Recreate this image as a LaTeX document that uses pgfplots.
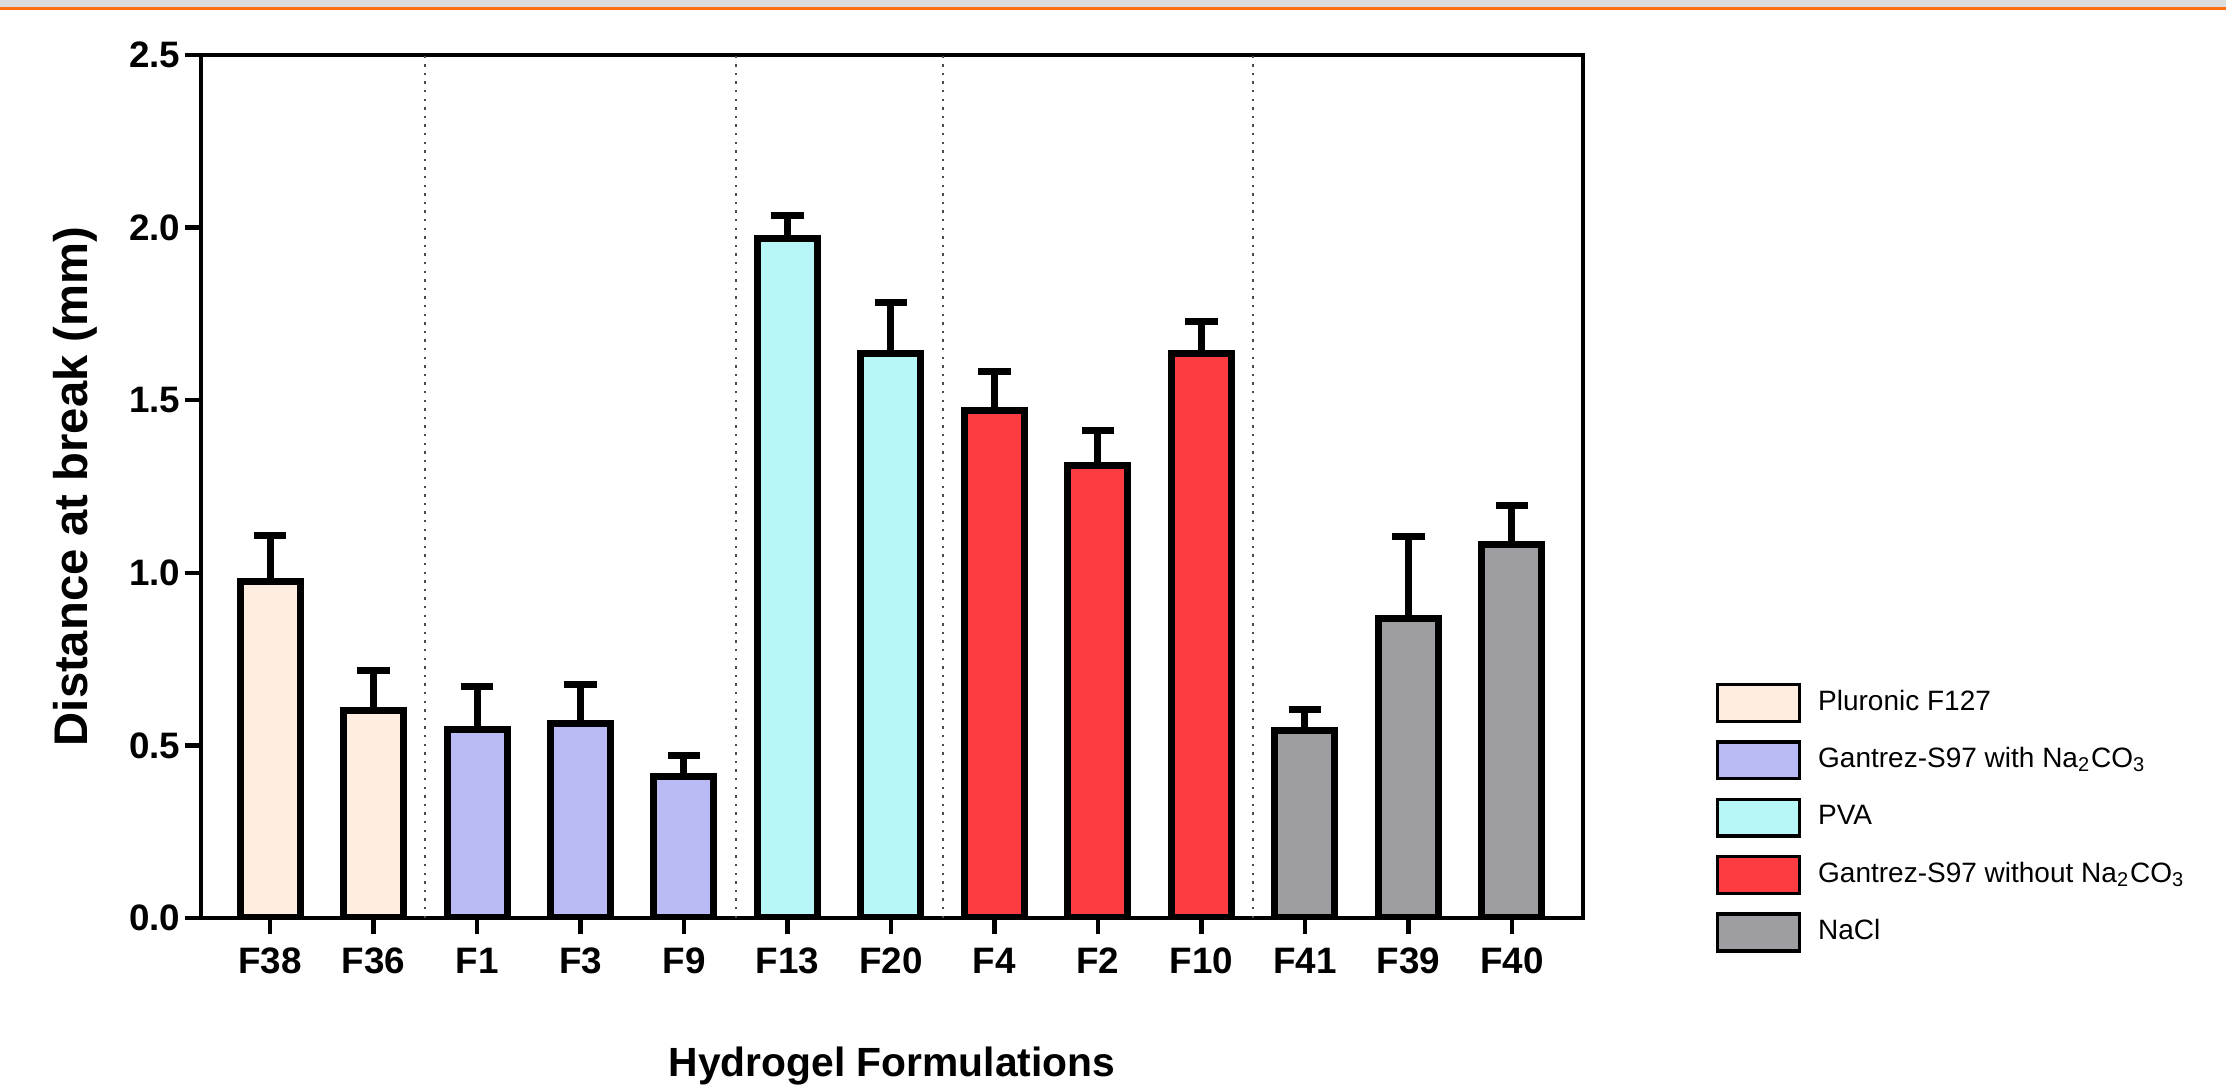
\documentclass[border=0pt]{standalone}
\usepackage{fontspec}
\setmainfont{Liberation Sans}
\usepackage{pgfplots}
\pgfplotsset{compat=1.18}

\definecolor{pluronic}{RGB}{252,237,222}
\definecolor{gantrezw}{RGB}{186,186,245}
\definecolor{pva}{RGB}{183,247,247}
\definecolor{gantrezwo}{RGB}{252,60,64}
\definecolor{nacl}{RGB}{158,158,162}
\definecolor{topgray}{RGB}{220,220,220}
\definecolor{toporange}{RGB}{255,110,15}

\pgfplotsset{
  gbar/.style={fill=#1, draw=black, line width=1.75pt,
    error bars/.cd, y dir=plus, y explicit,
    error bar style={line width=1.75pt, black},
    error mark options={rotate=90, line width=1.75pt, mark size=4.1pt, black}},
}

\begin{document}
\begin{tikzpicture}
\useasboundingbox (-50.25pt,-43.25pt) rectangle (506.25pt,229.5pt);
\fill[topgray] (-50.25pt,227.75pt) rectangle (506.25pt,229.5pt);
\fill[toporange] (-50.25pt,227pt) rectangle (506.25pt,227.75pt);
\begin{axis}[
  at={(0,0)}, anchor=south west,
  scale only axis, width=345.5pt, height=215.75pt,
  xmin=-0.667, xmax=12.687, ymin=0, ymax=2.5,
  ybar, bar width=15pt, bar shift=0pt,
  axis line style={line width=1.1pt},
  every tick/.style={black, line width=1.1pt},
  major tick length=4pt,
  tick align=outside,
  xtick pos=bottom, ytick pos=left,
  xtick={0,...,12},
  xticklabels={F38,F36,F1,F3,F9,F13,F20,F4,F2,F10,F41,F39,F40},
  ytick={0,0.5,1,1.5,2,2.5},
  /pgf/number format/assume math mode=true,
  yticklabel style={inner xsep=1pt, /pgf/number format/.cd, fixed, fixed zerofill, precision=1},
  tick label style={font=\fontsize{9.2}{10}\selectfont\bfseries},
  extra x ticks={1.5,4.5,6.5,9.5},
  extra x tick labels={},
  extra x tick style={grid=major, major tick length=0pt,
    major grid style={black!70, line width=0.6pt, dash pattern=on 0.6pt off 1.55pt}},
  ylabel={Distance at break (mm)},
  ylabel style={at={(axis description cs:-0.091,0.5)}, anchor=center,
    font=\fontsize{11.8}{13}\selectfont\bfseries},
  xlabel={Hydrogel Formulations},
  xlabel style={at={(axis description cs:0.5,-0.172)}, anchor=center,
    font=\fontsize{10.2}{12}\selectfont\bfseries},
  legend style={at={(axis description cs:1.0955,0.2735)}, anchor=north west,
    draw=none, fill=none, inner sep=0pt, row sep=4.3pt, column sep=4.25pt,
    font=\fontsize{7}{8}\selectfont, nodes={inner sep=0pt}},
  legend cell align=left,
  legend image code/.code={\draw[#1, line width=0.85pt] (0pt,-4.6pt) rectangle (20.5pt,4.6pt);},
]
\addplot[gbar=pluronic] coordinates {
  (0,0.975) +- (0,0.133)
  (1,0.600) +- (0,0.118)
};
\addplot[gbar=gantrezw] coordinates {
  (2,0.547) +- (0,0.124)
  (3,0.563) +- (0,0.112)
  (4,0.410) +- (0,0.060)
};
\addplot[gbar=pva] coordinates {
  (5,1.967) +- (0,0.068)
  (6,1.635) +- (0,0.147)
};
\addplot[gbar=gantrezwo] coordinates {
  (7,1.470) +- (0,0.112)
  (8,1.312) +- (0,0.100)
  (9,1.635) +- (0,0.092)
};
\addplot[gbar=nacl] coordinates {
  (10,0.543) +- (0,0.061)
  (11,0.867) +- (0,0.239)
  (12,1.082) +- (0,0.112)
};
\legend{Pluronic F127, Gantrez-S97 with Na\textsubscript{2}CO\textsubscript{3}, PVA,
  Gantrez-S97 without Na\textsubscript{2}CO\textsubscript{3}, NaCl}
\end{axis}
\end{tikzpicture}
\end{document}
